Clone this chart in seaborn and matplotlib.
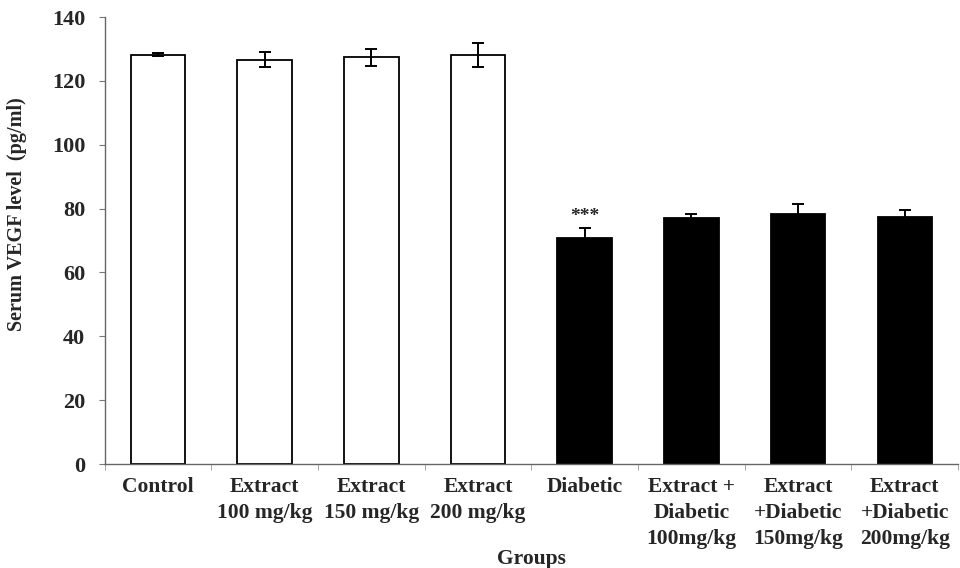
import matplotlib
matplotlib.use("Agg")
import matplotlib.pyplot as plt
import seaborn as sns
import numpy as np
import pandas as pd

categories = ["Control", "Extract\n100 mg/kg", "Extract\n150 mg/kg", "Extract\n200 mg/kg",
              "Diabetic", "Extract +\nDiabetic\n100mg/kg", "Extract\n+Diabetic\n150mg/kg",
              "Extract\n+Diabetic\n200mg/kg"]
values = [128.2, 126.6, 127.4, 128.2, 70.8, 77.1, 78.4, 77.4]
errors = [0.5, 2.3, 2.6, 3.8, 3.0, 1.1, 3.1, 2.2]
bar_colors = ["white", "white", "white", "white", "black", "black", "black", "black"]
annotations = ["", "", "", "", "***", "", "", ""]

sns.set_style("white")
plt.rcParams["font.family"] = ["Liberation Serif", "DejaVu Serif"]
plt.rcParams["font.weight"] = "bold"

fig = plt.figure(figsize=(9.6, 5.68), dpi=100)
ax = fig.add_axes([0.109, 0.183, 0.889, 0.787])

df = pd.DataFrame({"group": categories, "value": values})
sns.barplot(data=df, x="group", y="value", hue="group", palette=bar_colors,
            edgecolor="black", linewidth=1.3, width=0.51, legend=False, ax=ax)

xpos = np.arange(len(categories))
ax.errorbar(xpos, values, yerr=errors, fmt="none", ecolor="black",
            elinewidth=1.4, capsize=4.5, capthick=1.4)

for x, v, e, a in zip(xpos, values, errors, annotations):
    if a:
        ax.text(x, v + e + 1.0, a, ha="center", va="bottom", fontsize=14, fontweight="bold")

ax.set_ylim(0, 140)
ax.set_xlim(-0.5, len(categories) - 0.5)
ax.set_yticks(range(0, 141, 20))
ax.set_yticklabels([str(t) for t in range(0, 141, 20)], fontsize=16, fontweight="bold")
ax.set_xticks(xpos)
ax.set_xticklabels(categories, fontsize=15.5, fontweight="bold", linespacing=1.4, va="top")
ax.tick_params(axis="x", length=0, pad=9)
ax.tick_params(axis="y", left=True, length=4, width=0.8, color="#777777", pad=10)
ax.set_xticks(np.arange(-0.5, len(categories), 1.0), minor=True)
ax.tick_params(axis="x", which="minor", bottom=True, length=4, width=0.6, color="#999999")

for s in ["top", "right"]:
    ax.spines[s].set_visible(False)
for s in ["left", "bottom"]:
    ax.spines[s].set_color("#666666")
    ax.spines[s].set_linewidth(1.0)

ax.set_xlabel("Groups", fontsize=15.5, fontweight="bold")
ax.xaxis.set_label_coords(0.5, -0.19)
ax.set_ylabel("Serum VEGF level  (pg/ml)", fontsize=14.5, fontweight="bold")
ax.yaxis.set_label_coords(-0.091, 0.56)

fig.savefig("out.png", dpi=100)
